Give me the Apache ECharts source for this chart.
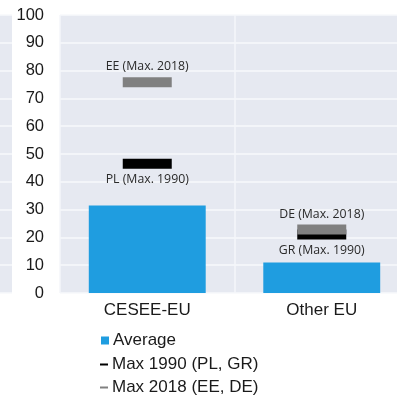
<!DOCTYPE html>
<html>
<head>
<meta charset="utf-8">
<script src="https://cdn.jsdelivr.net/npm/echarts@6/dist/echarts.min.js"></script>
<style>
  html, body { margin: 0; padding: 0; background: #ffffff; }
  #chart { width: 397px; height: 400px; }
</style>
</head>
<body>
<div id="chart"></div>
<script>
// Groups on the category axis
var categories = ['CESEE-EU', 'Other EU'];
// Average level per group
var averageValues = [31.5, 11];
// Highest country value in 1990 and 2018 per group
var max1990Values = [46.5, 21];
var max2018Values = [75.8, 22.8];
var max1990Countries = ['PL', 'GR'];
var max2018Countries = ['EE', 'DE'];
// Value axis ticks
var yMin = 0, yMax = 100, yStep = 10;

var seriesNames = ['Average', 'Max 1990 (PL, GR)', 'Max 2018 (EE, DE)'];

var panelBg = '#e6e9f1';
var labelFont = '"Open Sans", "Noto Sans", sans-serif';
var axisFont = '"Liberation Sans", Arial, sans-serif';

var chart = echarts.init(document.getElementById('chart'), null, { renderer: 'canvas' });

function markerLabel(country, year, position) {
  return {
    show: true,
    position: position,
    distance: 4.5,
    formatter: country + ' (Max. ' + year + ')',
    color: '#2a2a2a',
    fontFamily: labelFont,
    fontSize: 12.3
  };
}

function legendBlock(name, top, left, h) {
  return {
    data: [name], orient: 'vertical', left: left, top: top, padding: 0,
    icon: 'rect', itemWidth: 8, itemHeight: h, itemGap: 0,
    textStyle: { color: '#1a1a1a', fontFamily: axisFont, fontSize: 17, padding: [0, 0, 0, -1] }
  };
}

chart.setOption({
  backgroundColor: '#ffffff',
  animation: false,
  grid: [
    { left: 60, top: 15, width: 349, height: 278, show: true, backgroundColor: panelBg, borderWidth: 0, outerBoundsMode: 'none' },
    { left: 0, top: 15, width: 12, height: 278, show: true, backgroundColor: panelBg, borderWidth: 0, outerBoundsMode: 'none' }
  ],
  legend: [
    legendBlock(seriesNames[0], 332, 101, 8),
    legendBlock(seriesNames[1], 356, 100, 2),
    legendBlock(seriesNames[2], 379, 100, 2)
  ],
  xAxis: [
    {
      type: 'category', gridIndex: 0, data: categories,
      axisLine: { show: false }, axisTick: { show: false },
      axisLabel: { color: '#1a1a1a', fontFamily: axisFont, fontSize: 17, margin: 9 },
      splitLine: { show: true, lineStyle: { color: '#f5f6fa', width: 1.5 } }
    },
    { type: 'value', gridIndex: 1, show: false, min: 0, max: 1 }
  ],
  yAxis: [
    {
      type: 'value', gridIndex: 0, min: yMin, max: yMax, interval: yStep,
      axisLine: { show: false }, axisTick: { show: false },
      axisLabel: { color: '#1a1a1a', fontFamily: axisFont, fontSize: 16.5, margin: 16 },
      splitLine: { lineStyle: { color: '#f7f8fb', width: 1.5 } }
    },
    {
      type: 'value', gridIndex: 1, min: yMin, max: yMax, interval: yStep,
      axisLine: { show: false }, axisTick: { show: false }, axisLabel: { show: false },
      splitLine: { lineStyle: { color: '#f7f8fb', width: 1.5 } }
    }
  ],
  series: [
    {
      name: seriesNames[0], type: 'bar', xAxisIndex: 0, yAxisIndex: 0,
      data: averageValues, barWidth: '67%',
      itemStyle: { color: '#1f9de0' }
    },
    {
      name: seriesNames[1], type: 'scatter', xAxisIndex: 0, yAxisIndex: 0,
      symbol: 'rect', symbolSize: [49, 10], z: 3,
      itemStyle: { color: '#000000', opacity: 1 },
      data: max1990Values.map(function (v, i) {
        return { value: v, label: markerLabel(max1990Countries[i], 1990, 'bottom') };
      })
    },
    {
      name: seriesNames[2], type: 'scatter', xAxisIndex: 0, yAxisIndex: 0,
      symbol: 'rect', symbolSize: [49, 10], z: 4,
      itemStyle: { color: '#808080', opacity: 1 },
      data: max2018Values.map(function (v, i) {
        return { value: v, label: markerLabel(max2018Countries[i], 2018, 'top') };
      })
    }
  ]
});
</script>
</body>
</html>
